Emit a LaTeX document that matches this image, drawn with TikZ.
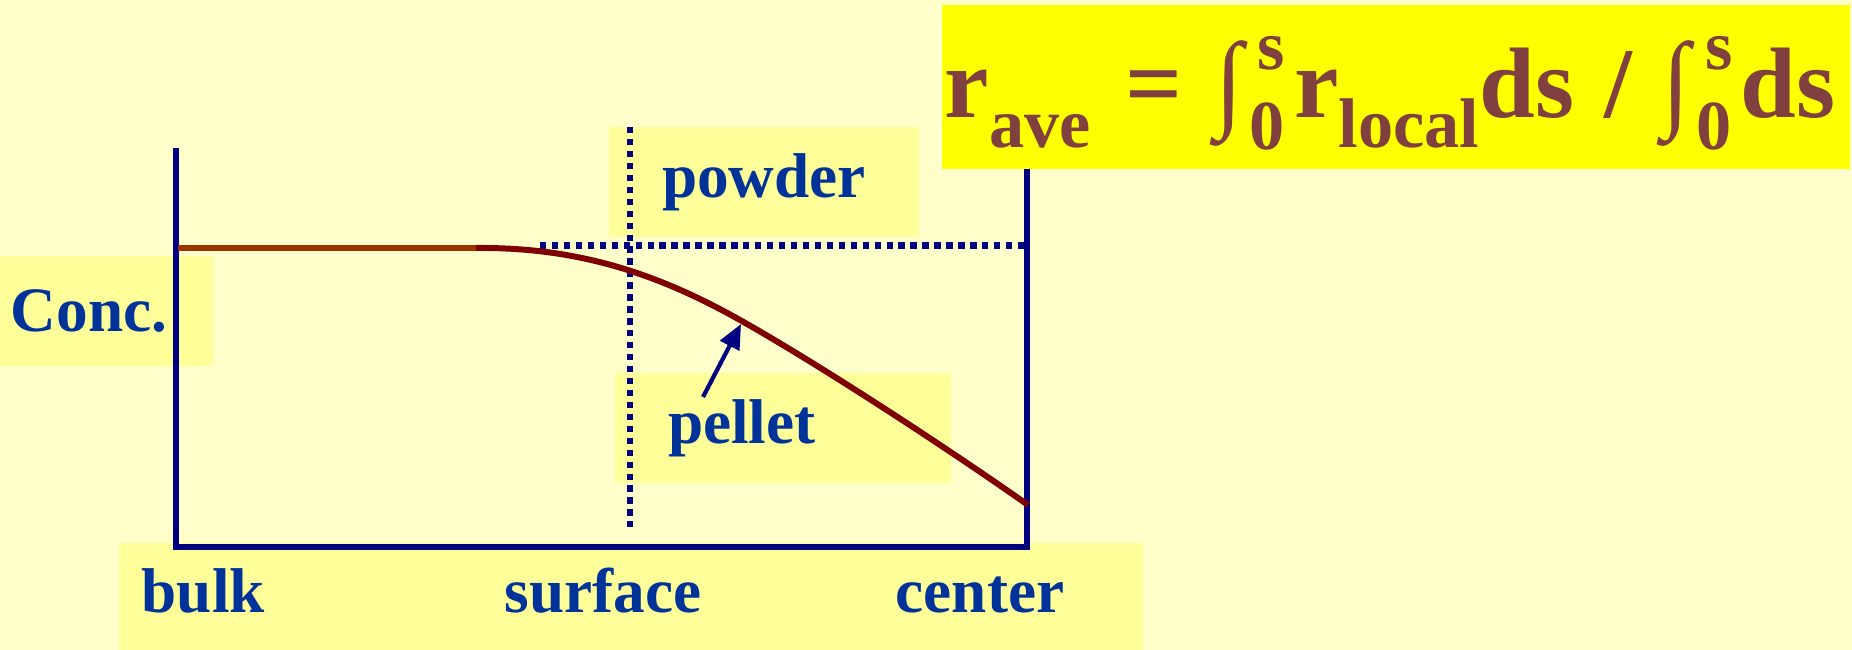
\documentclass[tikz,border=0pt]{standalone}
\usepackage{fontspec}
\setmainfont{Liberation Serif}
\usepackage{graphicx}
\definecolor{bgyellow}{RGB}{255,255,204}
\definecolor{lblyellow}{RGB}{255,255,153}
\definecolor{hlyellow}{RGB}{255,255,0}
\definecolor{axisnavy}{RGB}{0,0,128}
\definecolor{lblblue}{RGB}{0,51,153}
\definecolor{eqbrown}{RGB}{128,64,64}
\definecolor{curvered}{RGB}{128,0,0}
\definecolor{flatorange}{RGB}{153,51,0}
\usetikzlibrary{positioning,arrows.meta}

\newcommand{\eqsub}[1]{\raisebox{-8.3pt}{\fontsize{20}{20}\selectfont #1}}
\newcommand{\eqint}{\scalebox{1}[1.075]{∫}\hspace{0.06cm}\rlap{\hspace{2.5pt}\raisebox{13.7pt}{\fontsize{20}{20}\selectfont s}}\raisebox{-9.1pt}{\fontsize{20}{20}\selectfont 0}}

\begin{document}
\begin{tikzpicture}[
    lbl/.style={fill=lblyellow, text=lblblue, align=left,
                font={\fontsize{18}{20}\selectfont\bfseries},
                inner ysep=0pt, minimum height=1.1cm},
    word/.style={text=lblblue, inner sep=0pt, anchor=base west,
                 font={\fontsize{18}{20}\selectfont\bfseries}},
    axis/.style={axisnavy, line width=1.7pt},
    dots/.style={axisnavy, line width=1.8pt, dash pattern=on 1.8pt off 1.6pt},
    arr/.style={-{Triangle[length=7pt,width=6pt]}, axisnavy, line width=1.2pt},
]
\useasboundingbox (0,0) rectangle (18.52,6.5);
\fill[bgyellow] (0,0) rectangle (18.52,6.5);

% --- LABEL BOXES ---
\node[lbl, inner xsep=0.11cm, text width=1.91cm] (conc) at (1.065,3.39) {Conc.};

\node[lbl, inner xsep=0.53cm, text width=2.04cm] (powder) at (7.64,4.68) {powder};

\node[lbl, inner xsep=0.53cm, text width=2.30cm] (pellet) at (7.83,2.22) {pellet};

\node[fill=lblyellow, minimum width=10.24cm, minimum height=1.07cm,
      inner sep=0pt] (xbox) at (6.31,0.535) {};
\node[word] (bulk) at (1.41,0.37) {bulk};
\node[word] (surface) at (5.04,0.37) {surface};
\node[word] (center) at (8.95,0.37) {center};

% --- AXES ---
\coordinate (top) at (1.76,5.02);
\coordinate (orig) at (1.76,1.03);
\coordinate (end) at (10.27,1.03);
\coordinate (rtop) at (10.27,5.02);
\draw[axis] (top) -- (orig) -- (end) -- (rtop);

% dotted guides
\coordinate (surftop) at (6.30,5.23);
\coordinate (surfbot) at (6.30,1.23);
\coordinate (bulkl) at (5.40,4.045);
\coordinate (bulkr) at (10.27,4.045);
\draw[dots] (surftop) -- (surfbot);
\draw[dots] (bulkl) -- (bulkr);

% --- PROFILE ---
\coordinate (c0) at (1.78,4.02);
\coordinate (c1) at (4.76,4.02);
\coordinate (c2) at (7.40,3.30);
\coordinate (c3) at (10.28,1.45);
\draw[flatorange, line width=1.5pt] (c0) -- (c1);
\draw[curvered, line width=1.7pt] (c1) .. controls (5.8,4.03) and (6.6,3.75) .. (c2)
    .. controls (8.2,2.85) and (9.5,2.0) .. (c3);

\coordinate (ptail) at (7.03,2.53);
\coordinate (ptip) at (7.41,3.26);
\draw[arr] (ptail) -- (ptip);

% --- FORMULA ---
\node[fill=hlyellow, minimum width=9.08cm, minimum height=1.64cm,
      inner sep=0pt] (fbox) at (13.96,5.63) {};
\node[text=eqbrown, inner sep=0pt, anchor=base west,
      font={\fontsize{28.5}{30}\selectfont\bfseries}] (rave) at (9.44,5.32)
    {r\eqsub{ave}\hspace{0.35cm}=\hspace{0.33cm}\eqint\hspace{0.10cm}r\eqsub{local}ds\hspace{0.31cm}/\hspace{0.30cm}\eqint\hspace{0.09cm}ds};

\end{tikzpicture}
\end{document}
